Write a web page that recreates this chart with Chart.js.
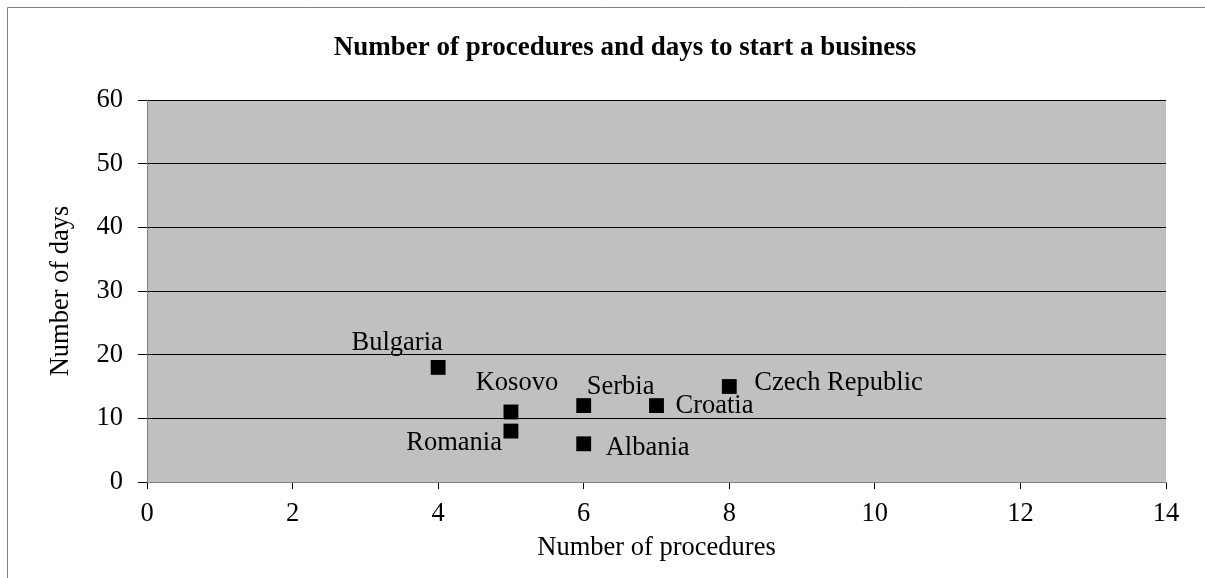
<!DOCTYPE html>
<html>
<head>
<meta charset="utf-8">
<script src="https://cdn.jsdelivr.net/npm/chart.js@4/dist/chart.umd.min.js"></script>
<style>
  html, body { margin: 0; padding: 0; background: #fff; }
  #wrap { width: 1205px; height: 578px; position: relative; }
</style>
</head>
<body>
<div id="wrap"><canvas id="chart" width="1205" height="578"></canvas></div>
<script>
// data
const countries = ['Bulgaria', 'Kosovo', 'Romania', 'Serbia', 'Albania', 'Croatia', 'Czech Republic'];
const procedures = [4, 5, 5, 6, 6, 7, 8];
const days = [18, 11, 8, 12, 6, 12, 15];

// label placement relative to the point (align, dx, dy)
const labelPos = [
    ['center', -41, -24],
    ['center', 6, -29],
    ['right', -9, 12],
    ['left', 3, -19],
    ['left', 22, 4],
    ['left', 19, 0],
    ['left', 25, -3]
];

const fontFamily = '"Liberation Serif", "Times New Roman", serif';
const fontSize = 26.5;

const frame = {
    id: 'frame',
    beforeDraw(chart) {
        const ctx = chart.ctx;
        const a = chart.chartArea;
        ctx.save();
        ctx.fillStyle = '#fff';
        ctx.fillRect(0, 0, chart.width, chart.height);
        // outer frame (left + top only visible)
        ctx.strokeStyle = '#808080';
        ctx.lineWidth = 1;
        ctx.beginPath();
        ctx.moveTo(7.5, chart.height);
        ctx.lineTo(7.5, 7.5);
        ctx.lineTo(chart.width, 7.5);
        ctx.stroke();
        // plot area
        ctx.fillStyle = '#c0c0c0';
        ctx.fillRect(a.left, a.top, a.right - a.left, a.bottom - a.top);
        // title
        ctx.fillStyle = '#000';
        ctx.font = 'bold 27px ' + fontFamily;
        ctx.textAlign = 'center';
        ctx.textBaseline = 'middle';
        ctx.fillText('Number of procedures and days to start a business', 625, 48);
        ctx.restore();
    },
    afterDatasetsDraw(chart) {
        const ctx = chart.ctx;
        const pts = chart.getDatasetMeta(0).data;
        ctx.save();
        ctx.fillStyle = '#000';
        ctx.font = fontSize + 'px ' + fontFamily;
        ctx.textBaseline = 'middle';
        pts.forEach((p, i) => {
            const [align, dx, dy] = labelPos[i];
            ctx.textAlign = align;
            ctx.fillText(countries[i], p.x + dx, p.y + dy);
        });
        ctx.restore();
    }
};

new Chart(document.getElementById('chart'), {
    type: 'scatter',
    data: {
        datasets: [{
            label: 'Countries',
            data: procedures.map((x, i) => ({ x: x, y: days[i] })),
            pointStyle: 'rect',
            pointRadius: 10.5,
            pointHoverRadius: 10.5,
            backgroundColor: '#000',
            borderWidth: 0
        }]
    },
    options: {
        responsive: false,
        animation: false,
        layout: { padding: { left: 0, top: 100, right: 39, bottom: 0 } },
        plugins: {
            legend: { display: false },
            tooltip: { enabled: false }
        },
        scales: {
            x: {
                type: 'linear',
                min: 0,
                max: 14,
                ticks: { stepSize: 2, color: '#000', padding: 9, font: { family: fontFamily, size: fontSize } },
                grid: { drawOnChartArea: false, drawTicks: true, tickLength: 7, color: '#000' },
                border: { color: '#808080', width: 1 },
                title: {
                    display: true,
                    text: 'Number of procedures',
                    color: '#000',
                    font: { family: fontFamily, size: fontSize },
                    padding: { top: 0, bottom: 14 }
                },
                afterFit(scale) { scale.height = 96; }
            },
            y: {
                min: 0,
                max: 60,
                ticks: { stepSize: 10, color: '#000', padding: 15, font: { family: fontFamily, size: fontSize } },
                grid: { color: '#000', tickLength: 9, drawTicks: true },
                border: { color: '#808080', width: 1 },
                title: {
                    display: true,
                    text: 'Number of days',
                    color: '#000',
                    font: { family: fontFamily, size: fontSize },
                    padding: { top: 45, bottom: 0 }
                },
                afterFit(scale) { scale.width = 147; }
            }
        }
    },
    plugins: [frame]
});
</script>
</body>
</html>
